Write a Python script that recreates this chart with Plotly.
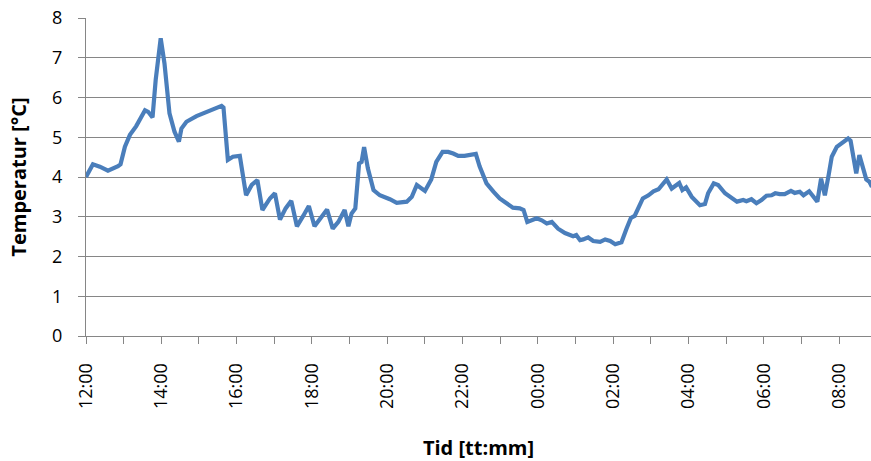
import plotly.graph_objects as go
from datetime import datetime, timedelta

# Measurement times (hh:mm, running from midday to the next morning)
times = [
    "12:00", "12:11", "12:22", "12:35", "12:51", "12:55", "13:02", "13:10", "13:20", "13:26",
    "13:34", "13:39", "13:46", "13:51", "13:59", "14:05", "14:13", "14:21", "14:28", "14:32",
    "14:40", "14:56", "15:17", "15:36", "15:39", "15:46", "15:54", "16:05", "16:15", "16:24",
    "16:33", "16:41", "16:53", "17:01", "17:09", "17:18", "17:27", "17:36", "17:46", "17:55",
    "18:04", "18:15", "18:24", "18:33", "18:42", "18:52", "18:58", "19:03", "19:09", "19:15",
    "19:19", "19:23", "19:29", "19:38", "19:48", "20:04", "20:15", "20:31", "20:39", "20:47",
    "20:52", "21:00", "21:10", "21:18", "21:28", "21:37", "21:45", "21:53", "22:03", "22:14",
    "22:21", "22:27", "22:38", "22:49", "22:59", "23:10", "23:20", "23:31", "23:37", "23:43",
    "23:50", "23:58", "00:06", "00:14", "00:22", "00:32", "00:43", "00:51", "00:56", "01:01",
    "01:07", "01:12", "01:20", "01:28", "01:39", "01:47", "01:55", "02:03", "02:13", "02:21",
    "02:28", "02:34", "02:40", "02:47", "02:56", "03:04", "03:12", "03:19", "03:25", "03:33",
    "03:38", "03:45", "03:50", "03:56", "04:05", "04:13", "04:18", "04:26", "04:31", "04:40",
    "04:47", "04:58", "05:09", "05:17", "05:27", "05:32", "05:40", "05:48", "05:56", "06:04",
    "06:12", "06:18", "06:25", "06:33", "06:43", "06:49", "06:57", "07:03", "07:12", "07:19",
    "07:25", "07:31", "07:37", "07:43", "07:48", "07:56", "08:06", "08:14", "08:18", "08:27",
    "08:32", "08:37", "08:43", "08:48", "08:52",
]

# Temperature in °C
temps = [
    4.00, 4.32, 4.26, 4.16, 4.27, 4.32, 4.76, 5.06, 5.28, 5.45,
    5.68, 5.64, 5.50, 6.44, 7.49, 6.86, 5.60, 5.14, 4.89, 5.22,
    5.39, 5.53, 5.67, 5.79, 5.75, 4.43, 4.51, 4.53, 3.54, 3.80,
    3.92, 3.17, 3.46, 3.59, 2.93, 3.21, 3.40, 2.76, 3.02, 3.27,
    2.76, 2.98, 3.18, 2.70, 2.87, 3.17, 2.76, 3.08, 3.21, 4.34,
    4.38, 4.75, 4.22, 3.67, 3.54, 3.44, 3.35, 3.38, 3.50, 3.80,
    3.75, 3.65, 3.94, 4.38, 4.63, 4.63, 4.59, 4.53, 4.53, 4.55,
    4.58, 4.27, 3.84, 3.63, 3.46, 3.34, 3.23, 3.21, 3.17, 2.87,
    2.91, 2.96, 2.91, 2.83, 2.87, 2.70, 2.59, 2.54, 2.51, 2.54,
    2.41, 2.43, 2.48, 2.39, 2.37, 2.43, 2.39, 2.31, 2.36, 2.70,
    2.97, 3.02, 3.21, 3.46, 3.54, 3.64, 3.69, 3.84, 3.94, 3.71,
    3.77, 3.85, 3.67, 3.74, 3.50, 3.35, 3.29, 3.32, 3.59, 3.84,
    3.80, 3.59, 3.46, 3.38, 3.42, 3.39, 3.44, 3.34, 3.42, 3.53,
    3.54, 3.59, 3.57, 3.57, 3.65, 3.60, 3.63, 3.54, 3.64, 3.50,
    3.38, 3.96, 3.54, 4.05, 4.51, 4.76, 4.89, 4.97, 4.91, 4.09,
    4.55, 4.26, 3.94, 3.88, 3.75,
]

# Turn hh:mm into datetimes; times before noon belong to the next day
day0 = datetime(2000, 1, 1)
stamps = []
for t in times:
    h, m = map(int, t.split(":"))
    d = day0 + timedelta(hours=h, minutes=m)
    if h < 12:
        d += timedelta(days=1)
    stamps.append(d)

x_start = day0 + timedelta(hours=12)
x_end = day0 + timedelta(days=1, hours=8, minutes=50, seconds=30)

GREY = "#868686"
FONT = "Open Sans"

fig = go.Figure(
    go.Scatter(
        x=stamps, y=temps, mode="lines",
        line=dict(color="#4A7EBB", width=4.2),
        hoverinfo="skip",
    )
)

fig.update_layout(
    width=871, height=461,
    margin=dict(l=86, r=0, t=18, b=125),
    paper_bgcolor="white", plot_bgcolor="white",
    showlegend=False,
    font=dict(family=FONT, size=18, color="black"),
)

fig.update_xaxes(
    type="date",
    range=[x_start, x_end],
    tick0=x_start, dtick=2 * 3600 * 1000,
    tickformat="%H:%M", tickangle=-90,
    ticks="outside", ticklen=7, tickcolor=GREY, tickwidth=1,
    ticklabelstandoff=12,
    minor=dict(dtick=3600 * 1000, ticks="outside", ticklen=7, tickcolor=GREY, showgrid=False),
    showgrid=False, zeroline=False,
    showline=True, linecolor=GREY, linewidth=1,
    title=dict(text="<b>Tid [tt:mm]</b>", font=dict(size=20), standoff=32),
)

fig.update_yaxes(
    range=[0, 8], dtick=1,
    ticks="outside", ticklen=7, tickcolor=GREY, tickwidth=1,
    ticklabelstandoff=12,
    showgrid=True, gridcolor=GREY, gridwidth=1,
    zeroline=False,
    showline=True, linecolor=GREY, linewidth=1,
    title=dict(text="<b>Temperatur [°C]</b>", font=dict(size=20), standoff=20),
)

fig.write_html("out.html")
